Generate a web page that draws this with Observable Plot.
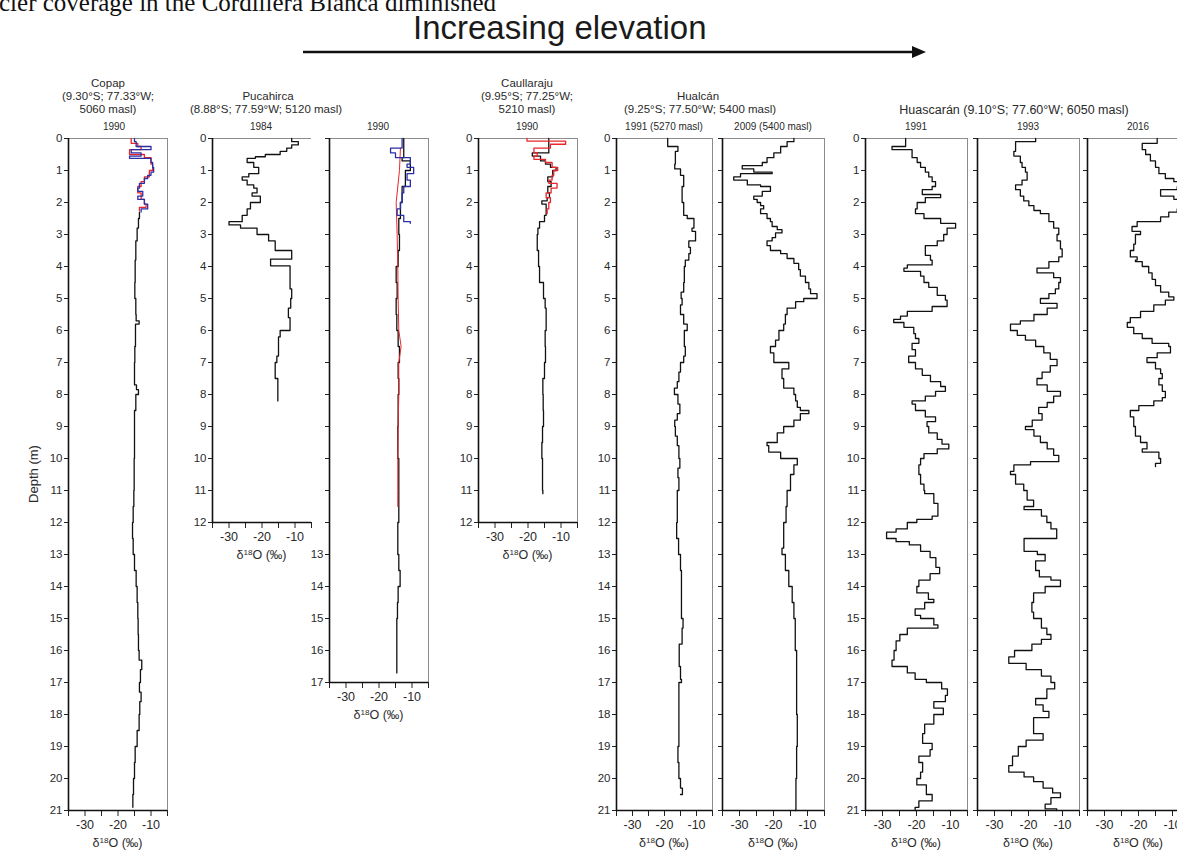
<!DOCTYPE html>
<html><head><meta charset="utf-8">
<script src="https://cdn.jsdelivr.net/npm/d3@7"></script>
<script src="https://cdn.jsdelivr.net/npm/@observablehq/plot@0.6"></script>
<style>
html,body{margin:0;padding:0;background:#fff;}
#root{position:relative;width:1177px;height:852px;overflow:hidden;background:#fff;font-family:"Liberation Sans",Arial,sans-serif;color:#2a2a2a;}
.t{position:absolute;white-space:nowrap;transform:translate(-50%,-50%);line-height:1;}
.panel{position:absolute;}
sup{font-size:0.65em;vertical-align:0.5em;line-height:0;}
</style></head><body><div id="root"></div>
<script>
// ---------- data: [depth (m), δ18O (‰)] ----------
const copap1990Black = [[2.3,-13.5],[2.5,-13.8],[2.8,-14.2],[3.2,-14.6],[3.8,-14.8],[4.5,-14.9],[5.0,-14.6],[5.5,-14.5],[5.7,-13.6],[5.8,-14.7],[6.5,-14.9],[7.0,-15.0],[7.7,-14.4],[7.85,-13.8],[8.0,-14.6],[8.5,-15.0],[9.0,-15.0],[10.0,-15.1],[11.0,-15.2],[11.5,-15.4],[12.0,-15.6],[12.5,-15.4],[13.0,-15.0],[13.5,-14.5],[14.0,-14.2],[14.5,-14.0],[15.0,-13.9],[15.5,-13.8],[16.0,-13.6],[16.3,-12.8],[16.6,-13.2],[17.0,-13.5],[17.3,-13.0],[17.6,-13.4],[18.0,-13.6],[18.5,-14.2],[19.0,-14.8],[19.5,-15.0],[20.0,-15.3],[20.5,-15.5],[20.9,-15.5]];
const copap1990Red = [[0,-16],[0.15,-14],[0.25,-13],[0.35,-16.5],[0.5,-12],[0.6,-10],[0.8,-9.5],[1.0,-10.5],[1.2,-12],[1.35,-13],[1.5,-14],[1.7,-13],[1.9,-12],[2.05,-11.5],[2.15,-13.5],[2.25,-13.5]];
const copap1990Blue = [[0,-15],[0.1,-14.5],[0.25,-10],[0.35,-16],[0.45,-13],[0.55,-16.5],[0.62,-10],[0.75,-9.5],[0.9,-9.2],[1.05,-10],[1.15,-11],[1.25,-12],[1.4,-13.5],[1.55,-14],[1.65,-12.5],[1.8,-14],[1.9,-12],[2.05,-11],[2.2,-13],[2.3,-13]];

const pucahirca1984 = [[0,-11],[0.1,-9],[0.2,-11],[0.3,-12.5],[0.4,-14.5],[0.5,-19],[0.57,-22],[0.62,-24.5],[0.75,-22.5],[0.9,-21],[1.1,-24],[1.2,-26],[1.3,-24.5],[1.45,-22.5],[1.55,-21.5],[1.7,-23],[1.8,-20.5],[2.0,-23.5],[2.2,-24.5],[2.4,-26],[2.6,-30],[2.7,-26.5],[2.8,-21.5],[3.0,-18],[3.2,-16],[3.5,-11],[3.77,-17.4],[3.98,-11.5],[4.7,-11],[5.0,-11.3],[5.3,-12],[5.6,-11.5],[6.0,-14.5],[6.2,-15],[6.8,-15.5],[7.0,-16],[7.5,-15.2],[8.2,-15.2]];
const pucahirca1990Black = [[0,-12.5],[0.6,-13],[0.7,-10.5],[1.0,-12],[1.5,-13],[2.0,-13.5],[2.5,-14],[3.0,-13.8],[3.5,-14.2],[4.0,-14.8],[4.5,-14.5],[5.0,-14.8],[5.5,-14.6],[6.0,-14.2],[6.5,-13.8],[7.0,-14.2],[7.5,-14.0],[8.0,-14.2],[9.0,-14.3],[10.0,-14.0],[11.0,-14.0],[12.0,-14.3],[13.0,-14.0],[13.5,-13.6],[14.0,-14.2],[14.5,-14.4],[15.0,-14.6],[16.0,-14.6],[16.7,-14.6]];
const pucahirca1990Red = [[0.3,-13.5],[1.0,-13.8],[2.0,-14.8],[3.0,-14.5],[4.0,-14.3],[5.0,-14.2],[6.0,-14.0],[6.5,-13.3],[7.0,-14.0],[8.0,-14.0],[9.0,-14.2],[10.0,-14.3],[11.0,-14.3],[11.5,-14.3]];
const pucahirca1990Blue = [[0,-13],[0.3,-16.5],[0.45,-15],[0.6,-10.5],[0.8,-11.5],[0.9,-9.5],[1.1,-11.5],[1.3,-10.5],[1.5,-12.5],[1.7,-13],[2.0,-13.5],[2.2,-14.5],[2.4,-12.5],[2.6,-10.5],[2.65,-10.5]];

const caullaraju1990Black = [[0,-13.7],[0.45,-18.7],[0.55,-16.2],[0.7,-14.7],[0.8,-13.2],[0.9,-11.5],[1.0,-12.5],[1.2,-14.0],[1.35,-13.0],[1.5,-14.0],[1.7,-13.5],[1.85,-14.2],[1.95,-15.8],[2.05,-14.5],[2.2,-14.5],[2.4,-15.0],[2.6,-16.5],[2.8,-17.0],[3.0,-17.2],[3.5,-16.8],[4.0,-16.5],[4.5,-15.3],[5.0,-14.8],[5.3,-14.5],[6.0,-14.8],[6.5,-14.7],[7.0,-15.0],[7.5,-15.5],[8.0,-15.4],[8.5,-15.3],[9.0,-15.6],[9.5,-15.8],[10.0,-15.6],[11.0,-15.5],[11.1,-15.5]];
const caullaraju1990Red = [[0,-20.3],[0.08,-8.6],[0.18,-13.2],[0.3,-18.2],[0.45,-17.2],[0.55,-18.2],[0.65,-14.7],[0.75,-12.7],[0.9,-11.0],[1.0,-12.2],[1.15,-12.7],[1.3,-13.7],[1.4,-11.2],[1.55,-13.0],[1.7,-14.5],[1.85,-13.2],[2.0,-13.7],[2.2,-14.2],[2.35,-14.2]];

const hualcan1991 = [[0,-19.0],[0.25,-15.8],[0.4,-16.6],[0.8,-16.8],[0.95,-15.0],[1.15,-14.0],[1.5,-14.5],[2.0,-14.0],[2.4,-12.9],[2.5,-10.8],[2.8,-11.4],[2.9,-10.3],[3.2,-12.4],[3.4,-11.9],[3.6,-12.4],[3.8,-13.5],[4.0,-13.8],[4.5,-14.0],[4.8,-14.8],[5.0,-14.5],[5.2,-15.0],[5.5,-14.0],[5.8,-12.9],[6.0,-13.8],[6.5,-13.5],[6.8,-14.0],[7.0,-15.0],[7.3,-15.5],[7.6,-16.0],[7.8,-16.9],[8.0,-15.8],[8.3,-15.2],[8.6,-16.0],[8.8,-16.8],[9.0,-16.6],[9.3,-16.0],[9.6,-15.5],[10.0,-15.2],[10.3,-15.8],[10.6,-15.5],[11.0,-16.0],[12.0,-16.2],[12.5,-15.6],[13.0,-15.0],[13.5,-14.7],[15.0,-14.2],[15.3,-14.5],[15.8,-15.4],[16.5,-15.0],[16.9,-14.7],[17.0,-15.5],[19.0,-15.8],[19.5,-15.5],[20.0,-15.0],[20.3,-14.4],[20.5,-15.0]];
const hualcan2009 = [[0,-14.0],[0.1,-16.0],[0.25,-17.9],[0.45,-19.9],[0.6,-21.9],[0.75,-23.3],[0.85,-29.2],[0.95,-25.8],[1.05,-20.4],[1.1,-29.7],[1.2,-31.7],[1.3,-27.7],[1.45,-23.8],[1.5,-20.9],[1.65,-23.3],[1.8,-25.8],[1.9,-24.8],[2.0,-23.8],[2.1,-22.9],[2.2,-23.8],[2.35,-21.9],[2.5,-20.9],[2.6,-20.4],[2.75,-18.9],[2.85,-17.5],[2.95,-19.4],[3.1,-20.4],[3.2,-21.9],[3.35,-20.9],[3.5,-17.9],[3.6,-16.0],[3.75,-14.0],[3.9,-12.6],[4.1,-12.1],[4.3,-10.6],[4.5,-9.6],[4.7,-9.1],[4.85,-7.2],[5.0,-11.1],[5.1,-13.5],[5.3,-16.0],[5.5,-16.5],[5.8,-17.0],[6.0,-18.4],[6.3,-19.4],[6.5,-20.9],[6.7,-19.9],[7.0,-15.5],[7.2,-17.5],[7.5,-17.0],[7.8,-14.0],[8.0,-13.5],[8.2,-13.0],[8.4,-12.1],[8.5,-9.6],[8.6,-12.1],[8.8,-14.0],[9.0,-17.0],[9.2,-18.9],[9.5,-21.9],[9.6,-21.4],[9.8,-17.9],[10.0,-13.0],[10.2,-14.0],[10.5,-15.0],[11.0,-16.0],[11.5,-16.3],[12.0,-17.0],[12.8,-17.5],[13.0,-16.5],[13.5,-15.5],[14.0,-14.5],[14.5,-14.0],[15.0,-13.6],[16.0,-13.2],[18.0,-13.0],[19.0,-13.2],[20.0,-13.4],[21.0,-13.6]];

const huascaran1991 = [[0,-23.2],[0.25,-27.2],[0.35,-21.3],[0.6,-19.8],[0.75,-18.8],[0.9,-17.4],[1.05,-16.4],[1.2,-15.4],[1.35,-14.4],[1.5,-15.4],[1.6,-18.3],[1.75,-12.9],[1.85,-17.4],[2.0,-19.8],[2.2,-20.3],[2.35,-17.8],[2.5,-12.9],[2.65,-8.5],[2.8,-11.0],[3.0,-12.0],[3.2,-13.9],[3.35,-17.4],[3.65,-15.9],[3.8,-15.4],[3.95,-22.7],[4.05,-23.7],[4.15,-18.8],[4.3,-17.8],[4.5,-16.4],[4.65,-13.9],[4.9,-11.5],[5.05,-11.0],[5.25,-15.4],[5.4,-22.7],[5.55,-24.7],[5.65,-26.7],[5.75,-23.7],[5.9,-20.8],[6.1,-20.3],[6.25,-19.3],[6.4,-21.3],[6.6,-20.3],[6.8,-22.3],[7.0,-20.3],[7.2,-18.3],[7.4,-15.9],[7.6,-12.9],[7.75,-11.5],[7.9,-14.4],[8.05,-17.4],[8.2,-21.3],[8.3,-20.3],[8.5,-17.4],[8.7,-14.4],[8.85,-16.9],[9.0,-16.4],[9.2,-13.9],[9.4,-12.5],[9.55,-10.5],[9.7,-13.9],[9.85,-17.8],[10.0,-18.8],[10.2,-19.3],[10.5,-18.8],[10.8,-17.8],[11.0,-17.6],[11.1,-14.9],[11.4,-13.7],[11.8,-15.4],[11.9,-19.9],[12.0,-22.7],[12.2,-26.0],[12.3,-28.8],[12.5,-26.0],[12.6,-22.1],[12.7,-18.8],[12.9,-16.0],[13.1,-14.3],[13.4,-13.2],[13.6,-16.0],[13.8,-19.3],[14.0,-19.9],[14.2,-16.5],[14.4,-14.9],[14.5,-17.6],[14.7,-20.4],[14.9,-18.8],[15.0,-14.9],[15.2,-13.7],[15.3,-22.7],[15.5,-24.9],[15.7,-26.0],[16.0,-26.6],[16.3,-27.2],[16.5,-22.7],[16.7,-20.4],[16.9,-17.1],[17.0,-12.6],[17.2,-10.9],[17.4,-11.5],[17.6,-14.9],[17.8,-12.1],[18.0,-14.9],[18.3,-17.6],[18.6,-18.2],[18.9,-15.4],[19.1,-16.0],[19.3,-19.3],[19.5,-18.2],[19.8,-18.8],[20.0,-19.9],[20.2,-17.1],[20.5,-15.4],[20.7,-19.3],[20.9,-20.4],[21.0,-20.4]];
const huascaran1993 = [[0,-17.9],[0.1,-23.8],[0.4,-24.3],[0.55,-22.4],[0.75,-21.9],[0.9,-20.9],[1.05,-20.4],[1.3,-21.9],[1.45,-23.8],[1.6,-22.4],[1.8,-21.4],[1.95,-19.9],[2.1,-18.4],[2.25,-16.5],[2.35,-14.0],[2.6,-12.6],[2.8,-11.1],[3.0,-11.6],[3.2,-10.6],[3.45,-10.1],[3.7,-11.1],[3.85,-14.0],[4.05,-17.5],[4.2,-12.6],[4.35,-10.6],[4.5,-11.1],[4.7,-12.1],[4.85,-14.0],[5.0,-16.5],[5.15,-11.6],[5.3,-14.5],[5.5,-18.4],[5.7,-22.4],[5.8,-25.3],[6.0,-23.3],[6.15,-20.9],[6.3,-17.9],[6.5,-15.5],[6.7,-13.6],[6.9,-11.6],[7.1,-13.6],[7.3,-16.0],[7.5,-17.5],[7.7,-14.5],[7.9,-10.6],[8.05,-12.6],[8.25,-14.5],[8.4,-17.0],[8.6,-16.0],[8.8,-18.9],[9.0,-20.9],[9.1,-18.4],[9.3,-16.5],[9.5,-14.5],[9.7,-12.6],[9.9,-11.1],[10.1,-19.4],[10.2,-24.3],[10.4,-25.3],[10.5,-23.8],[10.8,-21.4],[11.0,-20.4],[11.3,-18.5],[11.5,-21.3],[11.6,-16.2],[11.8,-14.6],[12.0,-13.4],[12.2,-11.7],[12.5,-21.3],[12.9,-17.4],[13.0,-15.1],[13.2,-17.9],[13.5,-16.8],[13.7,-13.4],[13.8,-10.6],[14.0,-15.1],[14.2,-18.5],[14.5,-19.0],[14.8,-18.5],[15.0,-16.2],[15.3,-14.6],[15.5,-13.4],[15.65,-16.2],[15.8,-19.0],[16.0,-24.1],[16.2,-25.8],[16.4,-20.7],[16.6,-16.2],[16.8,-13.4],[17.0,-12.3],[17.2,-14.6],[17.5,-17.9],[17.7,-15.7],[17.9,-14.0],[18.1,-18.5],[18.4,-18.5],[18.6,-15.7],[18.8,-20.7],[19.0,-23.0],[19.3,-24.7],[19.6,-25.8],[19.8,-21.3],[19.95,-18.5],[20.1,-15.7],[20.3,-12.9],[20.45,-10.6],[20.6,-13.4],[20.8,-15.1],[20.95,-11.7],[21.0,-11.7]];
const huascaran2016 = [[0,-14.5],[0.15,-18.9],[0.35,-17.9],[0.5,-16.5],[0.7,-15.0],[0.9,-14.0],[1.1,-12.1],[1.25,-9.6],[1.35,-7.6],[1.5,-8.6],[1.6,-13.5],[1.8,-9.6],[1.9,-7.6],[2.0,-5.7],[2.2,-8.6],[2.3,-11.1],[2.45,-13.5],[2.6,-20.4],[2.75,-21.9],[2.9,-19.4],[3.0,-20.9],[3.3,-21.4],[3.5,-22.4],[3.7,-20.4],[3.8,-20.9],[3.85,-18.9],[4.0,-17.0],[4.2,-16.0],[4.4,-15.0],[4.6,-13.5],[4.8,-11.1],[4.95,-9.6],[5.05,-12.1],[5.2,-15.5],[5.4,-19.4],[5.6,-22.4],[5.75,-23.3],[5.9,-21.4],[6.1,-18.9],[6.25,-16.0],[6.4,-11.1],[6.5,-10.6],[6.7,-14.5],[6.85,-17.5],[7.0,-15.0],[7.2,-13.5],[7.35,-13.0],[7.5,-14.0],[7.7,-13.0],[7.9,-12.1],[8.1,-13.0],[8.2,-15.5],[8.35,-19.9],[8.5,-22.4],[8.7,-21.4],[9.0,-20.9],[9.3,-19.4],[9.5,-17.5],[9.7,-18.9],[9.8,-14.0],[10.0,-13.5],[10.15,-15.0],[10.25,-15.0]];

// tick values
const xTicks = [-35, -30, -25, -20, -15, -10, -5];
const xTickLabels = [-30, -20, -10];
const xLabelText = "δ<sup>18</sup>O (‰)";

// ---------- layout ----------
const TOP = 138, PX_PER_M = 32;
const BLACK = "#111", RED = "#e8262c", BLUE = "#2b2fa6";
const root = document.getElementById("root");

const panels = [
  {left: 68, width: 99, depth: 21, labels: d => true, right: true,
   series: [{data: copap1990Black, color: BLACK}, {data: copap1990Red, color: RED}, {data: copap1990Blue, color: BLUE}]},
  {left: 212, width: 99, depth: 12, labels: d => true, right: false,
   series: [{data: pucahirca1984, color: BLACK}]},
  {left: 329, width: 99, depth: 17, labels: d => d >= 13, right: true,
   series: [{data: pucahirca1990Black, color: BLACK}, {data: pucahirca1990Red, color: RED, curve: "linear", w: 1}, {data: pucahirca1990Blue, color: BLUE}]},
  {left: 478, width: 99, depth: 12, labels: d => true, right: true,
   series: [{data: caullaraju1990Black, color: BLACK}, {data: caullaraju1990Red, color: RED}]},
  {left: 616, width: 96, depth: 21, labels: d => true, right: true,
   series: [{data: hualcan1991, color: BLACK}]},
  {left: 722, width: 102, depth: 21, labels: d => false, right: true,
   series: [{data: hualcan2009, color: BLACK}]},
  {left: 865, width: 102, depth: 21, labels: d => true, right: true,
   series: [{data: huascaran1991, color: BLACK}]},
  {left: 977, width: 102, depth: 21, labels: d => false, right: true,
   series: [{data: huascaran1993, color: BLACK}]},
  {left: 1087, width: 102, depth: 21, labels: d => false, right: true,
   series: [{data: huascaran2016, color: BLACK}]}
];

function label(html, x, y, size, extra) {
  const d = document.createElement("div");
  d.className = "t";
  d.innerHTML = html;
  d.style.left = x + "px";
  d.style.top = y + "px";
  d.style.fontSize = size + "px";
  if (extra) Object.assign(d.style, extra);
  root.appendChild(d);
  return d;
}

const mL = 34, mR = 4, mT = 4, mB = 12;
for (const p of panels) {
  const h = p.depth * PX_PER_M;
  const chart = Plot.plot({
    width: p.width + mL + mR,
    height: h + mT + mB,
    marginLeft: mL, marginRight: mR, marginTop: mT, marginBottom: mB,
    x: {domain: [-35, -5]},
    y: {domain: [0, p.depth], reverse: true},
    style: {background: "none", color: "#2a2a2a", fontFamily: "Liberation Sans, Arial, sans-serif", overflow: "visible"},
    marks: [
      Plot.ruleY([0], {stroke: "#8c8c8c", strokeWidth: 1}),
      p.right ? Plot.ruleX([-5], {stroke: "#8c8c8c", strokeWidth: 1}) : null,
      Plot.axisY({ticks: d3.range(0, p.depth + 1), tickSize: 4, tickPadding: 2, tickFormat: d => p.labels(d) ? String(d) : "", label: null, fontSize: 11.5, stroke: "#222"}),
      Plot.axisX({ticks: xTicks, tickSize: 6, tickPadding: 4, tickFormat: d => xTickLabels.includes(d) ? String(d) : "", label: null, fontSize: 12.5, stroke: "#222"}),
      Plot.ruleX([-35], {stroke: "#111", strokeWidth: 1.6}),
      Plot.ruleY([p.depth], {stroke: "#111", strokeWidth: 1.4}),
      ...p.series.map(s => Plot.line(s.data, {x: d => d[1], y: d => d[0], curve: s.curve || "step-before", stroke: s.color, strokeWidth: s.w || 1.3}))
    ]
  });
  chart.classList.add("panel");
  chart.style.left = (p.left - mL) + "px";
  chart.style.top = (TOP - mT) + "px";
  root.appendChild(chart);
  label(xLabelText, p.left + p.width / 2, TOP + h + 33, 12.5);
}

// ---------- header text ----------
const title = document.createElement("div");
title.textContent = "cier coverage in the Cordillera Blanca diminished";
Object.assign(title.style, {position: "absolute", left: "-1px", top: "-10px", fontFamily: "'Liberation Serif', 'Times New Roman', serif", fontSize: "25px", lineHeight: "1", whiteSpace: "nowrap", color: "#111"});
root.appendChild(title);

const inc = document.createElement("div");
inc.textContent = "Increasing elevation";
Object.assign(inc.style, {position: "absolute", left: "413px", top: "11px", fontSize: "33px", lineHeight: "1", whiteSpace: "nowrap", color: "#1a1a1a"});
root.appendChild(inc);

const svg = d3.select(root).append("svg").attr("width", 1177).attr("height", 70)
  .style("position", "absolute").style("left", 0).style("top", 0);
svg.append("line").attr("x1", 303).attr("x2", 914).attr("y1", 52).attr("y2", 52).attr("stroke", "#111").attr("stroke-width", 2.6);
svg.append("path").attr("d", "M912,46 L926,52 L912,58 Z").attr("fill", "#111");

label("Depth (m)", 33, 474, 13, {transform: "translate(-50%,-50%) rotate(-90deg)"});

const H = 11.5, Y = 10;
label("Copap", 108, 84, H);
label("(9.30°S; 77.33°W;", 108, 97, H);
label("5060 masl)", 108, 110, H);
label("1990", 114, 127, Y);

label("Pucahirca", 268, 97, H);
label("(8.88°S; 77.59°W; 5120 masl)", 266, 110, H);
label("1984", 261, 127, Y);
label("1990", 378, 127, Y);

label("Caullaraju", 527, 84, H);
label("(9.95°S; 77.25°W;", 527, 97, H);
label("5210 masl)", 527, 110, H);
label("1990", 527, 127, Y);

label("Hualcán", 698, 97, H);
label("(9.25°S; 77.50°W; 5400 masl)", 700, 110, H);
label("1991 (5270 masl)", 664, 127, Y);
label("2009 (5400 masl)", 773, 127, Y);

label("Huascarán (9.10°S; 77.60°W; 6050 masl)", 1014, 110, 12.5);
label("1991", 916, 127, Y);
label("1993", 1028, 127, Y);
label("2016", 1138, 127, Y);
</script></body></html>
